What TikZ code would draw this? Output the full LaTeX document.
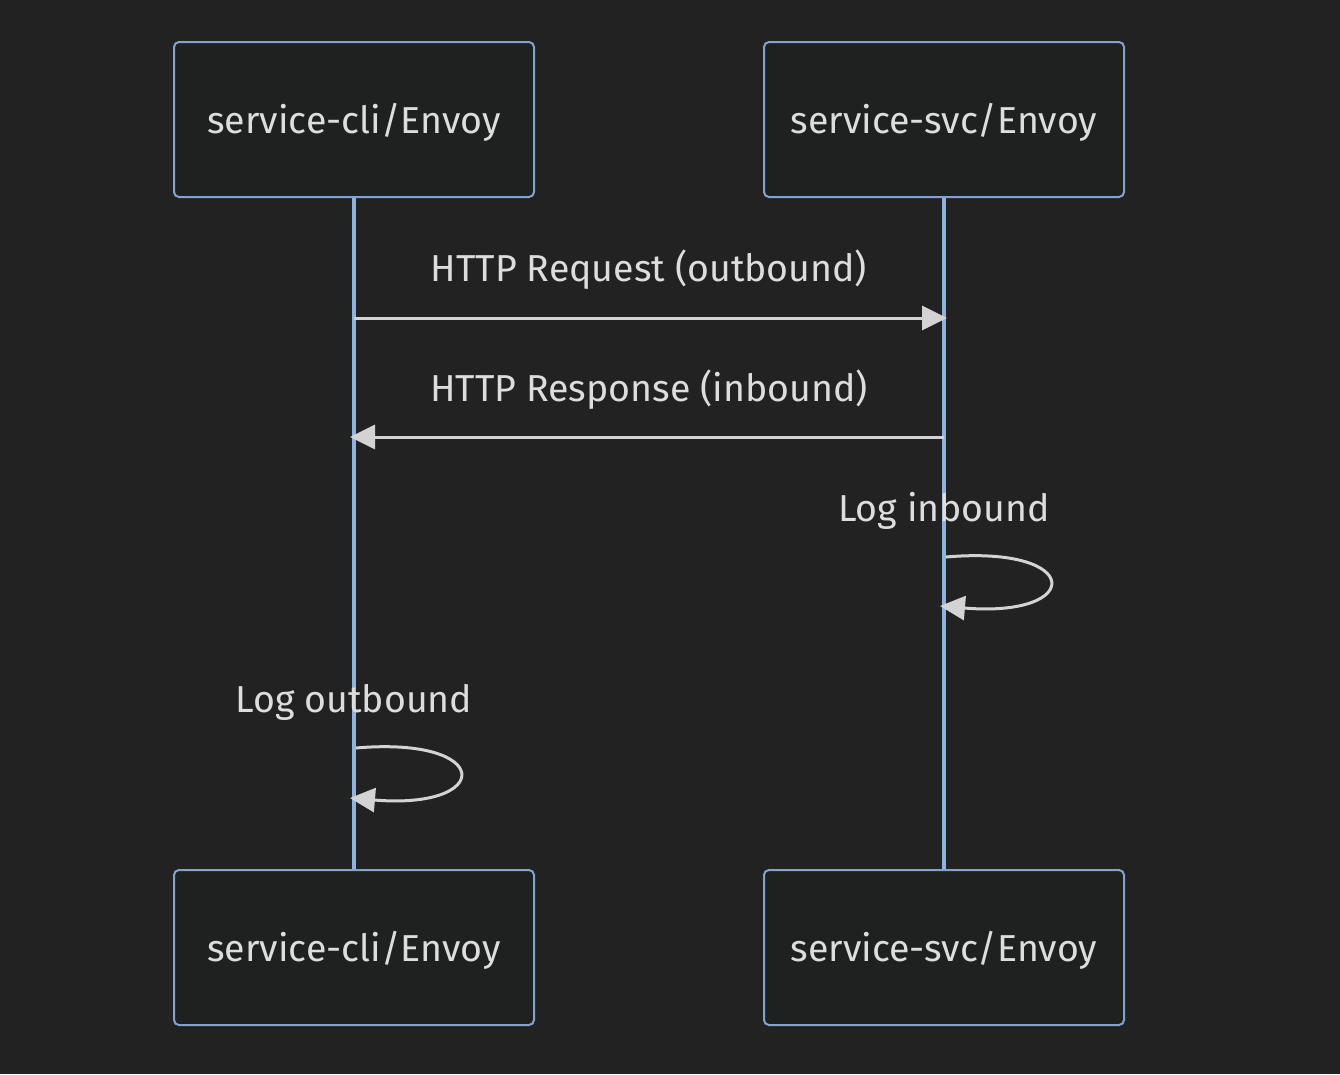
\documentclass[tikz,border=0pt]{standalone}
\usepackage{fontspec}
\setmainfont{Fira Sans}
\usetikzlibrary{arrows.meta}
\definecolor{bg}{HTML}{222222}
\definecolor{boxfill}{HTML}{1F2020}
\definecolor{boxline}{HTML}{81A3CF}
\definecolor{life}{HTML}{8DB3E0}
\definecolor{txt}{HTML}{DDDDDD}
\definecolor{msg}{HTML}{D3D3D3}
\newcommand{\lowtxt}[1]{\raisebox{-3pt}[\height][\depth]{#1}}
\begin{document}
\begin{tikzpicture}[x=1pt,y=-1pt,
  actor/.style={draw=boxline,fill=boxfill,line width=2pt,rounded corners=5pt,
    minimum width=360pt,minimum height=155pt,inner sep=0pt,text=txt,
    font=\fontsize{37.5}{44}\selectfont},
  lifeline/.style={draw=life,line width=4pt},
  message/.style={draw=msg,line width=3pt,-{Triangle[length=25pt,width=24pt]}},
  msglabel/.style={text=txt,font=\fontsize{37.5}{44}\selectfont,inner sep=0pt}]
\fill[bg] (0,0) rectangle (1340,1074);
\useasboundingbox (0,0) rectangle (1340,1074);
\node[actor] (cliTop) at (354,119.5) {\lowtxt{service-cli/Envoy}};
\node[actor] (svcTop) at (944,119.5) {\lowtxt{service-svc/Envoy}};
\node[actor] (cliBot) at (354,947.5) {\lowtxt{service-cli/Envoy}};
\node[actor] (svcBot) at (944,947.5) {\lowtxt{service-svc/Envoy}};
\draw[lifeline] (cliTop.south) -- (cliBot.north);
\draw[lifeline] (svcTop.south) -- (svcBot.north);
\coordinate (r1s) at (354,318);
\coordinate (r1e) at (947,318);
\coordinate (r2s) at (944,437);
\coordinate (r2e) at (350,437);
\coordinate (l1s) at (946,557);
\coordinate (l1e) at (940,606);
\coordinate (l2s) at (356,748);
\coordinate (l2e) at (350,798);
\draw[message] (l1s) .. controls (1084,545) and (1084,618) .. (l1e);
\draw[message] (l2s) .. controls (494,736) and (494,810) .. (l2e);
\draw[message] (r1s) -- (r1e);
\draw[message] (r2s) -- (r2e);
\node[msglabel] (t1) at (649,270) {HTTP Request (outbound)};
\node[msglabel] (t2) at (649,390) {HTTP Response (inbound)};
\node[msglabel] (t3) at (944,511) {Log inbound};
\node[msglabel] (t4) at (354,702) {Log outbound};
\end{tikzpicture}
\end{document}
